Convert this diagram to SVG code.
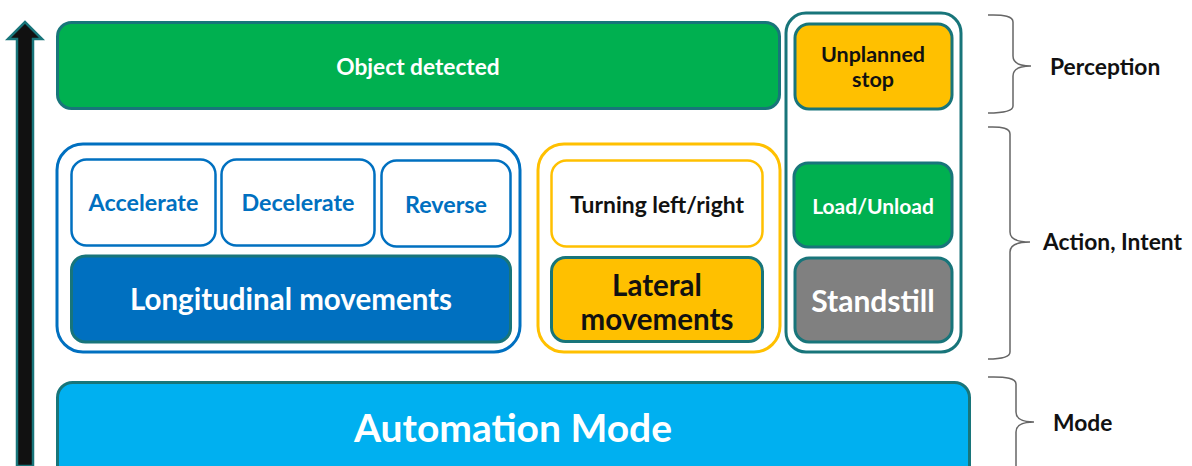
<svg xmlns="http://www.w3.org/2000/svg" width="1192" height="466" viewBox="0 0 1192 466">
<style>
text{font-family:Lato,"Liberation Sans",sans-serif;font-weight:bold;text-anchor:middle;dominant-baseline:central}
.teal{stroke:#18757a;stroke-width:3}
.w{fill:#fff}
.k{fill:#111}
.b{fill:#0070c0}
.brace{fill:none;stroke:#666;stroke-width:1.5}
.lbl{font-size:22.8px;fill:#111;text-anchor:start}
</style>
<rect width="1192" height="466" fill="#fff"/>
<g id="arrow">
<path d="M17,466 L17,39 L8,39 L25,22 L42,39 L33,39 L33,466 Z" fill="#111" stroke="#18757a" stroke-width="2.5"/>
</g>
<g id="object-detected">
<rect x="57.5" y="22.5" width="722" height="86" rx="14" fill="#00b050" class="teal"/>
<text x="418" y="66" font-size="22.7" class="w">Object detected</text>
</g>
<g id="standstill-group">
<rect x="786" y="13" width="175" height="339" rx="20" fill="none" class="teal"/>
</g>
<g id="unplanned-stop">
<rect x="795" y="24" width="157" height="85" rx="14" fill="#ffc000" class="teal"/>
<text x="873" y="54" font-size="21.5" class="k">Unplanned</text>
<text x="873" y="79" font-size="21.5" class="k">stop</text>
</g>
<g id="longitudinal-group">
<rect x="57" y="144" width="463" height="208" rx="26" fill="none" stroke="#0070c0" stroke-width="3"/>
</g>
<g id="accelerate">
<rect x="71.5" y="159.5" width="144" height="86" rx="15" fill="#fff" stroke="#0070c0" stroke-width="2.5"/>
<text x="143.5" y="202" font-size="23.3" class="b">Accelerate</text>
</g>
<g id="decelerate">
<rect x="221.5" y="159.5" width="153" height="86" rx="15" fill="#fff" stroke="#0070c0" stroke-width="2.5"/>
<text x="298" y="202" font-size="23.3" class="b">Decelerate</text>
</g>
<g id="reverse">
<rect x="381.5" y="160.5" width="129" height="86" rx="15" fill="#fff" stroke="#0070c0" stroke-width="2.5"/>
<text x="446" y="204" font-size="23.3" class="b">Reverse</text>
</g>
<g id="longitudinal">
<rect x="71.5" y="256" width="439" height="86" rx="14" fill="#0070c0" class="teal"/>
<text x="291" y="298" font-size="29.5" class="w">Longitudinal movements</text>
</g>
<g id="lateral-group">
<rect x="538" y="144" width="242" height="208" rx="26" fill="none" stroke="#ffc000" stroke-width="3"/>
</g>
<g id="turning">
<rect x="551.5" y="160.5" width="211" height="86" rx="15" fill="#fff" stroke="#ffc000" stroke-width="2.5"/>
<text x="657" y="204" font-size="22.9" class="k" font-weight="600">Turning left/right</text>
</g>
<g id="lateral">
<rect x="551.5" y="257.5" width="211" height="84" rx="14" fill="#ffc000" class="teal"/>
<text x="657" y="284" font-size="29.5" class="k" font-weight="500">Lateral</text>
<text x="657" y="318" font-size="29.5" class="k" font-weight="500">movements</text>
</g>
<g id="load-unload">
<rect x="794" y="163" width="158" height="84" rx="14" fill="#00b050" class="teal"/>
<text x="873" y="205" font-size="21" class="w">Load/Unload</text>
</g>
<g id="standstill">
<rect x="795" y="258" width="157" height="84" rx="14" fill="#808080" class="teal"/>
<text x="873" y="300" font-size="30" class="w">Standstill</text>
</g>
<g id="automation-mode">
<rect x="57.5" y="382.5" width="912" height="100" rx="15" fill="#00b0f0" class="teal"/>
<text x="513" y="427" font-size="39" class="w">Automation Mode</text>
</g>
<g id="connectors">
<path class="brace" d="M988,15 Q1013,14 1013,22 L1013,56 Q1013,66 1031,66 Q1013,66 1013,76 L1013,106 Q1013,113 988,113"/>
<path class="brace" d="M988,127 Q1010,126 1010,134 L1010,232 Q1010,242 1030,242 Q1010,242 1010,252 L1010,352 Q1010,359 988,359"/>
<path class="brace" d="M988,377 Q1016,376 1016,384 L1016,412 Q1016,422 1034,422 Q1016,422 1016,432 L1016,466"/>
</g>
<g id="labels">
<text x="1050" y="66" class="lbl">Perception</text>
<text x="1043" y="241" class="lbl">Action, Intent</text>
<text x="1053" y="422" class="lbl">Mode</text>
</g>
</svg>
